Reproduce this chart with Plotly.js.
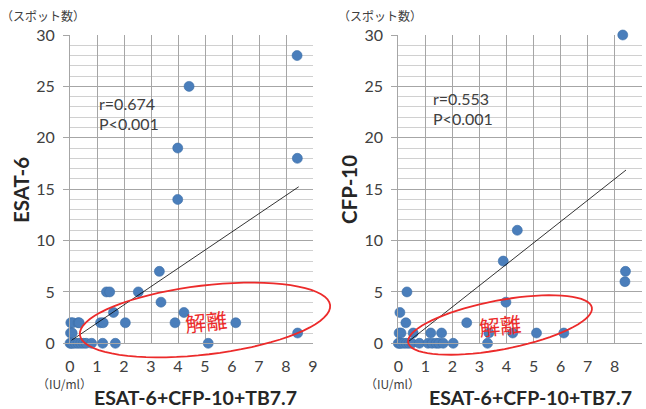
<!DOCTYPE html>
<html>
<head>
<meta charset="utf-8">
<script src="https://cdn.plot.ly/plotly-3.0.1.min.js"></script>
<style>html,body{margin:0;padding:0;background:#fff;}#chart{width:646px;height:409px;}</style>
</head>
<body>
<div id="chart"></div>
<script>
// ---- Data ----
// Left panel: ESAT-6 spots vs ESAT-6+CFP-10+TB7.7 (IU/ml)
const esatX = [8.41, 4.41, 3.99, 8.42, 3.99, 3.31, 1.35, 1.47, 2.53, 3.37, 1.61, 4.22,
  0.03, 0.10, 0.30, 0.34, 1.13, 1.23, 2.05, 3.89, 6.14,
  0.02, 0.08, 8.43,
  0.00, 0.05, 0.10, 0.20, 0.30, 0.40, 0.50, 0.60, 0.80, 1.21, 1.68, 5.12];
const esatY = [28, 25, 19, 18, 14, 7, 5, 5, 5, 4, 3, 3,
  2, 2, 2, 2, 2, 2, 2, 2, 2,
  1, 1, 1,
  0, 0, 0, 0, 0, 0, 0, 0, 0, 0, 0, 0];
// Right panel: CFP-10 spots vs ESAT-6+CFP-10+TB7.7 (IU/ml)
const cfpX = [8.30, 4.40, 3.88, 8.40, 8.38, 0.32, 3.98, 0.06, 0.28, 2.53,
  0.03, 0.10, 0.55, 1.20, 1.60, 3.35, 4.23, 5.11, 6.12,
  0.00, 0.05, 0.10, 0.20, 0.30, 0.40, 0.50, 0.78, 1.10, 1.25, 1.40, 1.50, 1.66, 2.03, 3.30];
const cfpY = [30, 11, 8, 7, 6, 5, 4, 3, 2, 2,
  1, 1, 1, 1, 1, 1, 1, 1, 1,
  0, 0, 0, 0, 0, 0, 0, 0, 0, 0, 0, 0, 0, 0, 0];
// Trend lines (endpoints as drawn in the reference)
const esatTrendX = [0.06, 8.47];
const esatTrendY = [0.3, 15.23];
const cfpTrendX = [0.37, 8.42];
const cfpTrendY = [0.16, 16.86];
// Labels
const xTickVals = [0,1,2,3,4,5,6,7,8,9];
const yTickVals = [0,5,10,15,20,25,30];
const xTitle = 'ESAT-6+CFP-10+TB7.7';
const xUnit = '（IU/ml）';
const yUnit = '（スポット数）';
const leftTitle = 'ESAT-6';
const rightTitle = 'CFP-10';
const leftStats = ['r=0.674', 'P<0.001'];
const rightStats = ['r=0.553', 'P<0.001'];
const dissocLabel = '解離';

// ---- Styling ----
const W = 646, H = 409;
const blue = '#4a7ebb';
const red = '#ec2b2b';
const txt = '#404040';
const fontF = 'Lato, "Noto Sans", sans-serif';
const cjkF = '"Noto Sans CJK JP", "Noto Sans", sans-serif';

function pts(x, y, xa, ya) {
  return {x: x, y: y, xaxis: xa, yaxis: ya, type: 'scatter', mode: 'markers', cliponaxis: false,
    marker: {size: 10, color: blue, line: {width: 0.6, color: '#3d6ea8'}}, hoverinfo: 'skip'};
}
function trend(x, y, xa, ya) {
  return {x: x, y: y, xaxis: xa, yaxis: ya, type: 'scatter', mode: 'lines',
    line: {color: '#000', width: 0.8}, hoverinfo: 'skip'};
}
const traces = [
  pts(esatX, esatY, 'x', 'y'), trend(esatTrendX, esatTrendY, 'x', 'y'),
  pts(cfpX, cfpY, 'x2', 'y2'), trend(cfpTrendX, cfpTrendY, 'x2', 'y2')
];

const yDom = [1 - 343.3 / H, 1 - 35 / H];
function xAxis(dom, anchor) {
  return {domain: dom, anchor: anchor, range: [0, 9], tickvals: xTickVals, showgrid: true,
    gridcolor: '#a6a6a6', gridwidth: 1, zeroline: false, showline: true, linecolor: '#a6a6a6',
    ticks: '', ticklabelstandoff: 8, tickfont: {family: fontF, size: 16, color: txt}, fixedrange: true};
}
function yAxis(anchor) {
  return {domain: yDom, anchor: anchor, range: [0, 30], tickvals: yTickVals, showgrid: true,
    gridcolor: '#a6a6a6', gridwidth: 1, zeroline: false, showline: true, linecolor: '#a6a6a6',
    ticks: 'outside', ticklen: 6, tickcolor: '#a6a6a6', ticklabelstandoff: 5,
    minor: {dtick: 1, showgrid: true, gridcolor: '#d0d0d0', gridwidth: 1, ticks: ''},
    tickfont: {family: fontF, size: 16, color: txt}, fixedrange: true};
}

function ellipsePath(cx, cy, a, b, deg) {
  const th = deg * Math.PI / 180;
  let p = '';
  for (let i = 0; i <= 72; i++) {
    const t = i / 72 * 2 * Math.PI;
    const px = cx + a * Math.cos(t) * Math.cos(th) - b * Math.sin(t) * Math.sin(th);
    const py = cy + a * Math.cos(t) * Math.sin(th) + b * Math.sin(t) * Math.cos(th);
    p += (i === 0 ? 'M' : 'L') + (px / W).toFixed(5) + ',' + (1 - py / H).toFixed(5) + ' ';
  }
  return p + 'Z';
}

function ann(text, px, py, opts) {
  return Object.assign({text: text, xref: 'paper', yref: 'paper', x: px / W, y: 1 - py / H,
    showarrow: false, xanchor: 'center', yanchor: 'middle',
    font: {family: fontF, size: 16, color: txt}}, opts || {});
}
const boldFont = {family: fontF, size: 19.5, color: '#262626', weight: 'bold'};
const yBoldFont = {family: fontF, size: 20.5, color: '#262626', weight: 'bold'};

const annotations = [
  ann(yUnit, 43, 15, {font: {family: cjkF, size: 12, color: txt}}),
  ann(yUnit, 380, 15, {font: {family: cjkF, size: 12, color: txt}}),
  ann(leftTitle, 21, 190, {textangle: -90, font: yBoldFont}),
  ann(rightTitle, 349, 190, {textangle: -90, font: yBoldFont}),
  ann(xTitle, 195, 397, {font: boldFont}),
  ann(xTitle, 530, 397, {font: boldFont}),
  ann(xUnit, 64, 383, {font: {family: cjkF, size: 12, color: txt}}),
  ann(xUnit, 392, 383, {font: {family: cjkF, size: 12, color: txt}}),
  ann(leftStats[0], 97, 103, {xanchor: 'left'}),
  ann(leftStats[1], 97, 123, {xanchor: 'left'}),
  ann(rightStats[0], 431, 99, {xanchor: 'left'}),
  ann(rightStats[1], 431, 119, {xanchor: 'left'}),
  ann(dissocLabel, 206, 321, {textangle: -6, font: {family: cjkF, size: 21, color: red}}),
  ann(dissocLabel, 500, 325, {textangle: -6, font: {family: cjkF, size: 21, color: red}})
];

const shapes = [
  {type: 'path', xref: 'paper', yref: 'paper', path: ellipsePath(205, 320, 126, 34.5, -6.8), line: {color: red, width: 1.8}},
  {type: 'path', xref: 'paper', yref: 'paper', path: ellipsePath(500, 325, 93.5, 24.5, -10.8), line: {color: red, width: 1.8}}
];

const layout = {
  width: W, height: H, margin: {l: 0, r: 0, t: 0, b: 0},
  paper_bgcolor: '#fff', plot_bgcolor: '#fff', showlegend: false,
  xaxis: xAxis([70 / W, 313 / W], 'y'),
  yaxis: yAxis('x'),
  xaxis2: xAxis([398.3 / W, 641.7 / W], 'y2'),
  yaxis2: yAxis('x2'),
  annotations: annotations, shapes: shapes
};

Plotly.newPlot('chart', traces, layout, {staticPlot: true, displayModeBar: false});
</script>
</body>
</html>
